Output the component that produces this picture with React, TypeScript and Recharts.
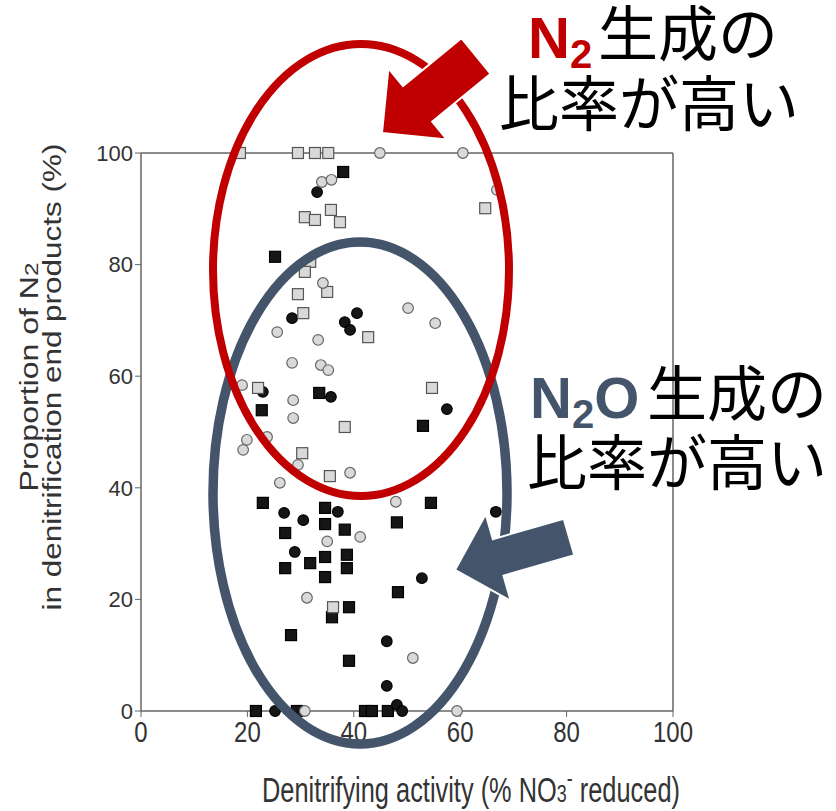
import { ReferenceLine, Scatter, ScatterChart, XAxis, YAxis } from "recharts";

const X_TICKS = [0, 20, 40, 60, 80, 100];
const Y_TICKS = [0, 20, 40, 60, 80, 100];

// [denitrifying activity (%), N2 share of end products (%)]
const blackSquares: [number, number][] = [
  [38.0, 96.6], [25.2, 81.4], [33.5, 57.0], [22.7, 53.9], [53.0, 51.1],
  [22.9, 37.3], [34.6, 36.4], [54.5, 37.3], [34.6, 33.5], [38.3, 32.5],
  [48.1, 33.8], [27.1, 31.9], [31.8, 26.5], [34.6, 27.6], [38.7, 28.0],
  [27.1, 25.6], [38.7, 25.6], [34.6, 24.0], [48.3, 21.3], [39.1, 18.6],
  [35.9, 16.8], [28.2, 13.6], [39.1, 9.0],
  [21.6, 0], [29.3, 0], [42.1, 0], [43.4, 0], [46.4, 0],
];

const blackCircles: [number, number][] = [
  [33.1, 93.0], [28.4, 70.4], [40.6, 71.3], [38.3, 69.7], [39.3, 68.3],
  [22.9, 57.2], [35.7, 56.3], [57.5, 54.1], [26.9, 35.5], [30.5, 34.2],
  [37.0, 35.7], [66.7, 35.7], [28.9, 28.5], [52.8, 23.8], [46.2, 12.5],
  [46.2, 4.5], [25.2, 0], [48.1, 1.1], [49.1, 0],
];

const graySquares: [number, number][] = [
  [18.6, 100], [29.5, 100], [32.7, 100], [35.2, 100],
  [30.8, 88.5], [32.7, 88.0], [35.7, 89.8], [37.4, 87.6], [64.7, 90.1],
  [31.8, 80.5], [30.8, 78.7], [35.0, 75.1], [29.5, 74.7], [30.5, 71.3],
  [42.7, 67.0], [22.0, 57.9], [54.7, 57.9], [38.3, 50.9], [30.3, 46.2],
  [35.5, 42.1], [36.1, 18.6],
];

const grayCircles: [number, number][] = [
  [44.9, 100], [60.5, 100], [34.0, 94.8], [35.8, 95.2], [66.9, 93.4],
  [34.2, 76.7], [25.6, 67.9], [50.2, 72.2], [55.3, 69.5], [33.3, 66.5],
  [28.4, 62.4], [33.8, 62.0], [35.2, 61.1], [19.0, 58.4], [28.6, 55.7],
  [28.6, 52.5], [19.9, 48.6], [19.2, 46.8], [23.7, 49.1], [29.5, 44.1],
  [26.1, 40.9], [39.3, 42.7], [47.9, 37.5], [35.0, 30.4], [41.2, 31.2],
  [31.2, 20.3], [51.1, 9.5], [30.8, 0], [59.4, 0],
];

const RED = "#c00000";
const SLATE = "#44546a";
const AXIS = "#666";
const TEXT = "#333";
const SANS = "'Liberation Sans', Arial, sans-serif";
const JP = "'Noto Sans CJK JP', sans-serif";

const toPoints = (list: [number, number][]) => list.map(([x, y]) => ({ x, y }));

const squareShape = (fill: string, stroke: string) => (props: any) => (
  <rect
    x={props.cx - 5.5}
    y={props.cy - 5.5}
    width={11}
    height={11}
    fill={fill}
    stroke={stroke}
    strokeWidth={1.2}
  />
);

const circleShape = (fill: string, stroke: string) => (props: any) => (
  <circle cx={props.cx} cy={props.cy} r={5.3} fill={fill} stroke={stroke} strokeWidth={1.2} />
);

// x tick labels look slightly stretched vertically in the source
function XTick({ x, y, payload }: any) {
  return (
    <g transform={`translate(${x},${y}) scale(1,1.2)`}>
      <text x={0} y={16} textAnchor="middle" fontSize={24} fill={TEXT} fontFamily={SANS}>
        {payload.value}
      </text>
    </g>
  );
}

// block arrow polygon from tail centre to tip
function arrowPoints(
  tail: [number, number],
  tip: [number, number],
  shaftHalf: number,
  headHalf: number,
  headLen: number
) {
  const dx = tip[0] - tail[0];
  const dy = tip[1] - tail[1];
  const len = Math.hypot(dx, dy);
  const ux = dx / len;
  const uy = dy / len;
  const px = -uy;
  const py = ux;
  const bx = tip[0] - ux * headLen;
  const by = tip[1] - uy * headLen;
  const pts = [
    [tail[0] + px * shaftHalf, tail[1] + py * shaftHalf],
    [bx + px * shaftHalf, by + py * shaftHalf],
    [bx + px * headHalf, by + py * headHalf],
    tip,
    [bx - px * headHalf, by - py * headHalf],
    [bx - px * shaftHalf, by - py * shaftHalf],
    [tail[0] - px * shaftHalf, tail[1] - py * shaftHalf],
  ];
  return pts.map((p) => `${p[0].toFixed(1)},${p[1].toFixed(1)}`).join(" ");
}

export default function App() {
  return (
    <div
      style={{
        position: "absolute",
        left: 0,
        top: 0,
        width: 836,
        height: 811,
        background: "#fff",
        fontFamily: SANS,
      }}
    >
      <ScatterChart
        width={836}
        height={811}
        margin={{ top: 153, right: 163, bottom: 70, left: 81 }}
      >
        <XAxis
          type="number"
          dataKey="x"
          domain={[0, 100]}
          ticks={X_TICKS}
          interval={0}
          height={30}
          tickSize={6}
          tickMargin={6}
          axisLine={{ stroke: AXIS, strokeWidth: 1.5 }}
          tickLine={{ stroke: AXIS }}
          tick={<XTick />}
        />
        <YAxis
          type="number"
          dataKey="y"
          domain={[0, 100]}
          ticks={Y_TICKS}
          interval={0}
          width={60}
          tickSize={6}
          tickMargin={2}
          axisLine={{ stroke: AXIS, strokeWidth: 1.5 }}
          tickLine={{ stroke: AXIS }}
          tick={{ fontSize: 22, fill: TEXT, fontFamily: SANS }}
        />
        <ReferenceLine y={100} stroke={AXIS} strokeWidth={1.5} />
        <ReferenceLine x={100} stroke={AXIS} strokeWidth={1.5} />
        <Scatter
          data={toPoints(blackSquares)}
          shape={squareShape("#161616", "#000")}
          isAnimationActive={false}
        />
        <Scatter
          data={toPoints(blackCircles)}
          shape={circleShape("#161616", "#000")}
          isAnimationActive={false}
        />
        <Scatter
          data={toPoints(graySquares)}
          shape={squareShape("#d9d9d9", "#555")}
          isAnimationActive={false}
        />
        <Scatter
          data={toPoints(grayCircles)}
          shape={circleShape("#d9d9d9", "#666")}
          isAnimationActive={false}
        />
      </ScatterChart>

      <svg
        width={836}
        height={811}
        style={{ position: "absolute", left: 0, top: 0, pointerEvents: "none" }}
      >
        {/* axis titles */}
        <text
          transform="translate(38,377) rotate(-90)"
          textAnchor="middle"
          fontSize={25}
          fill={TEXT}
          fontFamily={SANS}
          textLength={229}
          lengthAdjust="spacingAndGlyphs"
        >
          Proportion of N<tspan fontSize={19}>2</tspan>
        </text>
        <text
          transform="translate(61,377) rotate(-90)"
          textAnchor="middle"
          fontSize={25}
          fill={TEXT}
          fontFamily={SANS}
          textLength={467}
          lengthAdjust="spacingAndGlyphs"
        >
          in denitrification end products (%)
        </text>
        <g transform="translate(471,802) scale(1,1.35)">
          <text
            x={0}
            y={0}
            textAnchor="middle"
            fontSize={25.5}
            fill={TEXT}
            fontFamily={SANS}
            textLength={418}
            lengthAdjust="spacingAndGlyphs"
          >
            Denitrifying activity (% NO<tspan fontSize={18}>3</tspan>
            <tspan fontSize={18} dy={-12}>-</tspan>
            <tspan dy={12}> reduced)</tspan>
          </text>
        </g>

        {/* groupings */}
        <ellipse cx={360} cy={493} rx={147} ry={251} fill="none" stroke={SLATE} strokeWidth={9.5} />
        <ellipse cx={361} cy={270} rx={148} ry={226} fill="none" stroke={RED} strokeWidth={8} />

        <polygon
          points={arrowPoints([476, 56], [382, 133], 23, 46, 46)}
          fill={RED}
          stroke="#fff"
          strokeWidth={2}
        />
        <polygon
          points={arrowPoints([569, 537], [455, 570], 19, 45, 45)}
          fill={SLATE}
          stroke="#fff"
          strokeWidth={2}
        />

        {/* N2 annotation */}
        <text x={528} y={58} fontSize={58} fontWeight="bold" fill={RED} fontFamily={SANS}>
          N
          <tspan fontSize={40} dy={10}>2</tspan>
          <tspan x={598} dy={-12} fontWeight="normal" fill="#000" fontFamily={JP} fontSize={60}>
            生成の
          </tspan>
        </text>
        <text x={499} y={126} fontSize={60} fill="#000" fontFamily={JP}>
          比率が高い
        </text>

        {/* N2O annotation */}
        <text x={530} y={418} fontSize={58} fontWeight="bold" fill={SLATE} fontFamily={SANS}>
          N
          <tspan fontSize={40} dy={10}>2</tspan>
          <tspan dy={-10}>O</tspan>
          <tspan x={647} dy={-2} fontWeight="normal" fill="#000" fontFamily={JP} fontSize={60}>
            生成の
          </tspan>
        </text>
        <text x={527} y={485} fontSize={60} fill="#000" fontFamily={JP}>
          比率が高い
        </text>
      </svg>
    </div>
  );
}
